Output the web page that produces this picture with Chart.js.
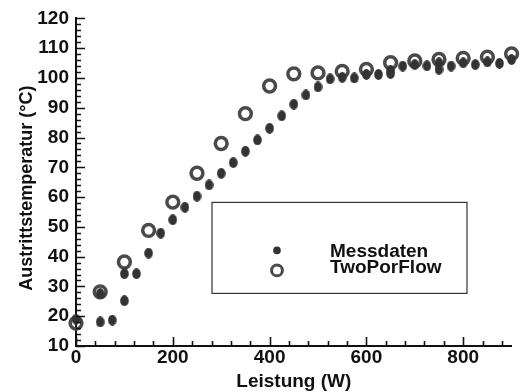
<!DOCTYPE html>
<html><head><meta charset="utf-8">
<script src="https://cdn.jsdelivr.net/npm/chart.js@4/dist/chart.umd.min.js"></script>
<style>html,body{margin:0;padding:0;background:#fff}#wrap{width:521px;height:392px}</style>
</head><body><div id="wrap"><canvas id="c" width="521" height="392"></canvas></div>
<script>
// ---- data ----
const messX = [0,50,50,75,100,100,125,150,175,200,225,250,275,300,325,350,375,400,425,450,475,500,525,550,575,600,625,650,650,675,700,725,750,750,775,800,825,850,875,900];
const messY = [19.0,18.1,27.6,18.7,25.2,34.3,34.3,41.2,47.9,52.4,56.6,60.3,64.1,68.0,71.6,75.4,79.2,83.1,87.3,91.2,94.3,97.0,99.7,100.2,100.0,101.2,101.2,102.6,101.5,104.0,104.5,104.1,105.1,102.9,104.0,105.1,104.5,105.4,104.9,106.2];
const simX = [0,50,100,150,200,250,300,350,400,450,500,550,600,650,700,750,800,850,900];
const simY = [17.7,28.2,38.2,48.8,58.3,68.0,78.0,88.0,97.3,101.4,101.7,102.2,102.9,105.1,105.7,106.2,106.6,107.0,108.1];
const seriesNames = ['Messdaten','TwoPorFlow'];
const xTickValues = [0,200,400,600,800];
const yTickValues = [10,20,30,40,50,60,70,80,90,100,110,120];
const xMinorStep = 40, yMinorStep = 2;
const xTitle = 'Leistung (W)';
const yTitle = 'Austrittstemperatur (°C)';

const DOT = '#333333', RING = '#4a4a4a';
const FONT = '"Liberation Sans", Arial, Helvetica, sans-serif';

const dotImg = document.createElement('canvas');
dotImg.width = 9; dotImg.height = 11;
(function(){const g=dotImg.getContext('2d');g.fillStyle=DOT;g.beginPath();g.ellipse(4.5,5.5,4.3,5.4,0,0,Math.PI*2);g.fill();})();

const toPts = (xs, ys) => xs.map((x,i)=>({x, y: ys[i]}));

function pixX(chart, v) {
  const s = chart.scales.x, a = chart.chartArea;
  let p = s.getPixelForValue(v);
  if (!isFinite(p)) p = a.left + (v - s.options.min) / (s.options.max - s.options.min) * (a.right - a.left);
  return p;
}
function pixY(chart, v) {
  const s = chart.scales.y, a = chart.chartArea;
  let p = s.getPixelForValue(v);
  if (!isFinite(p)) p = a.bottom - (v - s.options.min) / (s.options.max - s.options.min) * (a.bottom - a.top);
  return p;
}

const decor = {
  id: 'decor',
  afterDraw(chart) {
    const ctx = chart.ctx, a = chart.chartArea;
    const xo = chart.scales.x.options, yo = chart.scales.y.options;
    ctx.save();
    ctx.setLineDash([]);
    ctx.globalAlpha = 1;
    ctx.strokeStyle = '#111111';
    ctx.lineWidth = 1.6;
    const bottom = Math.round(a.bottom), left = Math.round(a.left);
    ctx.beginPath();
    for (let v = xo.min; v <= xo.max + 1e-6; v += xMinorStep) {
      const px = Math.round(pixX(chart, v)) + 0.5;
      const len = xTickValues.includes(v) ? 9 : 5;
      ctx.moveTo(px, bottom); ctx.lineTo(px, bottom - len);
    }
    for (let v = yo.min; v <= yo.max + 1e-6; v += yMinorStep) {
      const py = Math.round(pixY(chart, v)) + 0.5;
      const len = yTickValues.includes(Math.round(v)) ? 9 : 5;
      ctx.moveTo(left, py); ctx.lineTo(left + len, py);
    }
    ctx.stroke();
    // y axis title
    ctx.fillStyle = '#111';
    ctx.font = 'bold 18px ' + FONT;
    ctx.textAlign = 'center'; ctx.textBaseline = 'middle';
    ctx.translate(27, (a.top + a.bottom) / 2 + 6);
    ctx.rotate(-Math.PI / 2);
    ctx.fillText(yTitle, 0, 0);
    ctx.restore();

    // legend box
    ctx.save();
    const bx = a.left + 136, by = a.top + 184, bw = 255, bh = 91;
    ctx.strokeStyle = '#333'; ctx.lineWidth = 1.2;
    ctx.strokeRect(bx, by, bw, bh);
    const mx = bx + 65;
    ctx.fillStyle = DOT;
    ctx.beginPath(); ctx.arc(mx, by + 48, 3.8, 0, Math.PI*2); ctx.fill();
    ctx.strokeStyle = RING; ctx.lineWidth = 3;
    ctx.beginPath(); ctx.arc(mx, by + 68, 5.4, 0, Math.PI*2); ctx.stroke();
    ctx.fillStyle = '#111';
    ctx.font = 'bold 19px ' + FONT;
    ctx.textBaseline = 'alphabetic';
    ctx.textAlign = 'left';
    ctx.fillText(seriesNames[0], bx + 118, by + 55);
    ctx.fillText(seriesNames[1], bx + 118, by + 71);
    ctx.restore();
  }
};

new Chart(document.getElementById('c'), {
  type: 'scatter',
  data: {
    datasets: [
      { label: seriesNames[0], data: toPts(messX, messY), pointStyle: dotImg, pointRadius: 5, order: 0, clip: false },
      { label: seriesNames[1], data: toPts(simX, simY), pointStyle: 'circle', pointRadius: 5.9,
        borderWidth: 3.5, borderColor: RING, backgroundColor: 'rgba(0,0,0,0)', order: 1, clip: false }
    ]
  },
  options: {
    responsive: false,
    animation: false,
    layout: { padding: { top: 17, right: 6, left: 0, bottom: 0 } },
    plugins: { legend: { display: false }, tooltip: { enabled: false } },
    scales: {
      x: {
        type: 'linear', min: 0, max: 900,
        grid: { display: false, drawTicks: false },
        border: { display: true, color: '#111', width: 2 },
        afterBuildTicks: s => { s.ticks = xTickValues.map(v => ({value: v})); },
        afterFit: s => { s.height = 46; },
        ticks: { color: '#111', padding: 0, maxRotation: 0, font: { family: FONT, size: 19, weight: 'bold' } },
        title: { display: true, text: xTitle, color: '#111', padding: { top: 0, bottom: -1 }, font: { family: FONT, size: 19, weight: 'bold' } }
      },
      y: {
        type: 'linear', min: 10, max: 120,
        grid: { display: false, drawTicks: false },
        border: { display: true, color: '#111', width: 2 },
        afterBuildTicks: s => { s.ticks = yTickValues.map(v => ({value: v})); },
        afterFit: s => { s.width = 76; },
        ticks: { color: '#111', padding: 7, font: { family: FONT, size: 19, weight: 'bold' } },
        title: { display: false }
      }
    }
  },
  plugins: [decor]
});
</script>
</body></html>
